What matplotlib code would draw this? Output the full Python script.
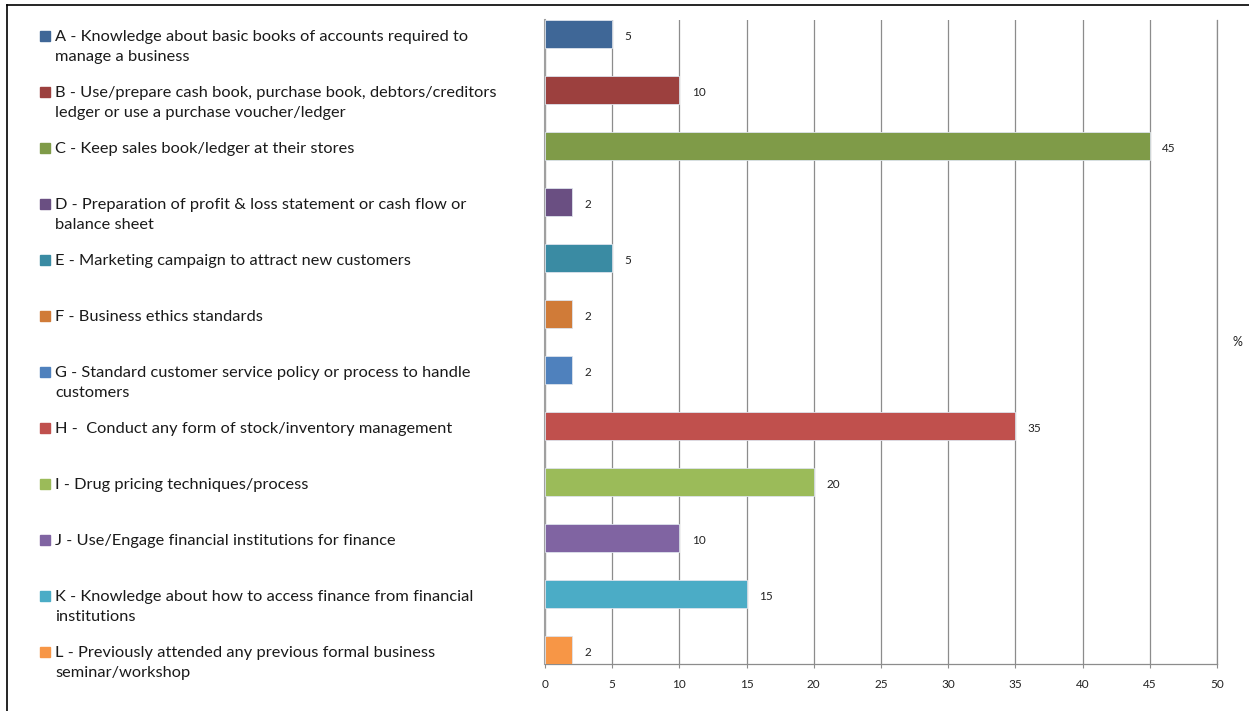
import matplotlib.pyplot as plt
from matplotlib.lines import Line2D
from matplotlib.transforms import blended_transform_factory
import numpy as np

labels = [
    'A - Knowledge about basic books of accounts required to\nmanage a business',
    'B - Use/prepare cash book, purchase book, debtors/creditors\nledger or use a purchase voucher/ledger',
    'C - Keep sales book/ledger at their stores',
    'D - Preparation of profit & loss statement or cash flow or\nbalance sheet',
    'E - Marketing campaign to attract new customers',
    'F - Business ethics standards',
    'G - Standard customer service policy or process to handle\ncustomers',
    'H -  Conduct any form of stock/inventory management',
    'I - Drug pricing techniques/process',
    'J - Use/Engage financial institutions for finance',
    'K - Knowledge about how to access finance from financial\ninstitutions',
    'L - Previously attended any previous formal business\nseminar/workshop',
]
values = [5, 10, 45, 2, 5, 2, 2, 35, 20, 10, 15, 2]
colors = ['#3F6797', '#9C403E', '#7F9B48', '#6A4F82', '#3A8BA3', '#D07B38',
          '#4F81BD', '#C0504D', '#9BBB59', '#8064A2', '#4BACC6', '#F79646']
xticks = [0, 5, 10, 15, 20, 25, 30, 35, 40, 45, 50]

plt.rcParams['font.family'] = ['Lato', 'DejaVu Sans']

fig = plt.figure(figsize=(12.49, 7.11), dpi=100)
ax = fig.add_axes([545/1249, 1 - 664/711, 672/1249, 644/711])

y = np.arange(len(values))
ax.barh(y, values, height=0.5, color=colors, edgecolor='#dde3ec', linewidth=0.6, zorder=3)
ax.set_xlim(0, 50)
ax.set_xticks(xticks)
ax.set_yticks([])
ax.set_ylim(len(values) - 0.75, -0.25)

for yi, v in zip(y, values):
    ax.annotate(str(v), (v, yi), xytext=(9, -1.5), textcoords='offset points',
                va='center', ha='left', fontsize=8.5, color='#222222')

# category list on the left with colour squares
trans = blended_transform_factory(fig.transFigure, ax.transData)
for yi, lab, c in zip(y, labels, colors):
    ax.annotate(lab, xy=(55/1249, yi), xycoords=trans,
                xytext=(0, 3.2), textcoords='offset points', va='top', ha='left',
                fontsize=11.8, linespacing=1.55, color='#1a1a1a')
    ax.plot([45.5/1249], [yi + 0.04], marker='s', markersize=6.5, color=c,
            transform=trans, clip_on=False)

ax.tick_params(axis='x', length=3, color='#8c8c8c', labelsize=8.5, pad=8, labelcolor='#222222')
ax.grid(axis='x', color='#8c8c8c', linewidth=0.9, zorder=0)
ax.spines['top'].set_visible(False)
for s in ['left', 'bottom', 'right']:
    ax.spines[s].set_color('#8c8c8c')
    ax.spines[s].set_linewidth(0.9)
ax.spines['left'].set_color('#a0a0a0')
ax.spines['left'].set_linewidth(1.5)

fig.text(1237/1249, 1 - 342/711, '%', fontsize=9, ha='center', va='center', color='#222222')

# screenshot frame on top and left
fig.add_artist(Line2D([7/1249, 1], [1 - 5/711, 1 - 5/711], color='black', linewidth=1.2))
fig.add_artist(Line2D([7/1249, 7/1249], [0, 1 - 5/711], color='black', linewidth=1.2))

fig.savefig('out.png', dpi=100)
